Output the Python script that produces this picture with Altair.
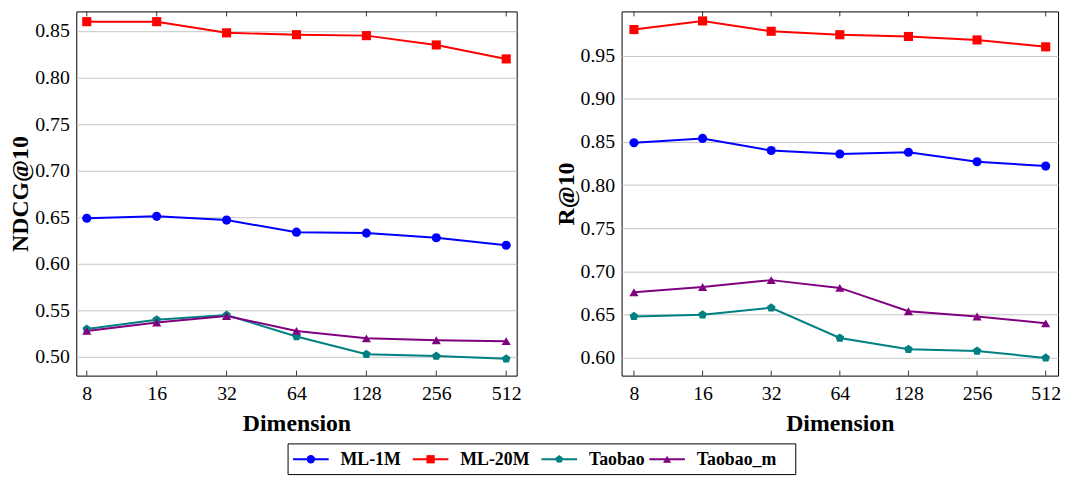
import altair as alt
import pandas as pd

dims = ["8", "16", "32", "64", "128", "256", "512"]
series = ["ML-1M", "ML-20M", "Taobao", "Taobao_m"]
colors = ["#0000ff", "#ff0000", "#008080", "#800080"]
pentagon = "M0,-1L0.951,-0.309L0.588,0.809L-0.588,0.809L-0.951,-0.309Z"
shapes = ["circle", "square", pentagon, "triangle-up"]

# NDCG@10 panel
ndcg_ml1m = [0.649, 0.651, 0.647, 0.634, 0.633, 0.628, 0.620]
ndcg_ml20m = [0.860, 0.860, 0.848, 0.846, 0.845, 0.835, 0.820]
ndcg_taobao = [0.530, 0.540, 0.545, 0.522, 0.503, 0.501, 0.498]
ndcg_taobao_m = [0.528, 0.537, 0.544, 0.528, 0.520, 0.518, 0.517]
ndcg_ticks = [0.50, 0.55, 0.60, 0.65, 0.70, 0.75, 0.80, 0.85]

# R@10 panel
r_ml1m = [0.849, 0.854, 0.840, 0.836, 0.838, 0.827, 0.822]
r_ml20m = [0.980, 0.990, 0.978, 0.974, 0.972, 0.968, 0.960]
r_taobao = [0.648, 0.650, 0.658, 0.623, 0.610, 0.608, 0.600]
r_taobao_m = [0.676, 0.682, 0.690, 0.681, 0.654, 0.648, 0.640]
r_ticks = [0.60, 0.65, 0.70, 0.75, 0.80, 0.85, 0.90, 0.95]

FONT = "Liberation Serif"
H = 368

color_scale = alt.Scale(domain=series, range=colors)
shape_scale = alt.Scale(domain=series, range=shapes)
x_axis = alt.Axis(title="Dimension", labelAngle=0, ticks=False, domain=False,
                  grid=False, labelPadding=8, titlePadding=8)


def panel(values, title, domain, ticks, width, pad):
    rows = []
    for s, vals in zip(series, values):
        for d, v in zip(dims, vals):
            rows.append({"dim": d, "val": v, "series": s})
    df = pd.DataFrame(rows)
    x_scale = alt.Scale(type="point", padding=pad)
    x = alt.X("dim:O", sort=dims, scale=x_scale, axis=x_axis)
    y = alt.Y("val:Q", scale=alt.Scale(domain=domain, nice=False, zero=False),
              axis=alt.Axis(title=title, values=ticks, format=".2f", ticks=False,
                            domain=False, grid=True, gridColor="#c4c4c4",
                            labelPadding=7, titlePadding=2))
    color = alt.Color("series:N", scale=color_scale, legend=None)
    lines = alt.Chart(df).mark_line(strokeWidth=2).encode(x=x, y=y, color=color)
    pts = alt.Chart(df).mark_point(filled=True, size=85, opacity=1).encode(
        x=x, y=y, color=color,
        shape=alt.Shape("series:N", scale=shape_scale, legend=None))
    tdf = pd.DataFrame({"dim": dims})
    top = alt.Chart(tdf).mark_rule(color="#333333", strokeWidth=1).encode(
        x=x, y=alt.value(0), y2=alt.value(5))
    bot = alt.Chart(tdf).mark_rule(color="#333333", strokeWidth=1).encode(
        x=x, y=alt.value(H - 5), y2=alt.value(H))
    return alt.layer(lines, pts, top, bot).properties(
        width=width, height=H, view=alt.ViewBackground(stroke="black", strokeWidth=1))


left = panel([ndcg_ml1m, ndcg_ml20m, ndcg_taobao, ndcg_taobao_m], "NDCG@10",
             [0.480, 0.871], ndcg_ticks, 445, 0.15)
right = panel([r_ml1m, r_ml20m, r_taobao, r_taobao_m], "R@10",
              [0.5795, 1.001], r_ticks, 441, 0.18)

# legend (layout offsets only, in pixels of the legend strip)
LW, LH = 800, 31
BOX_L, BOX_R = 214, 727
leg_start = [219, 340, 470, 579]
leg = pd.DataFrame({"series": series, "x0": leg_start})
lbase = alt.Chart(leg).transform_calculate(
    x1="datum.x0 + 36", xm="datum.x0 + 18", xt="datum.x0 + 48")
lx = alt.Scale(domain=[0, LW])
lcolor = alt.Color("series:N", scale=color_scale, legend=None)
lbox = alt.Chart(pd.DataFrame({"k": [0]})).mark_rect(
    fill="white", stroke="black", strokeWidth=1).encode(
    x=alt.value(BOX_L), x2=alt.value(BOX_R), y=alt.value(0), y2=alt.value(LH))
lrule = lbase.mark_rule(strokeWidth=2).encode(
    x=alt.X("x0:Q", scale=lx, axis=None), x2="x1:Q", y=alt.value(LH / 2), color=lcolor)
lpt = lbase.mark_point(filled=True, size=70, opacity=1).encode(
    x=alt.X("xm:Q", scale=lx, axis=None), y=alt.value(LH / 2), color=lcolor,
    shape=alt.Shape("series:N", scale=shape_scale, legend=None))
ltext = lbase.mark_text(align="left", baseline="middle", font=FONT, fontSize=18,
                        fontWeight="bold", color="black").encode(
    x=alt.X("xt:Q", scale=lx, axis=None), y=alt.value(LH / 2 + 1), text="series:N")
legend = alt.layer(lbox, lrule, lpt, ltext).properties(
    width=LW, height=LH, view=alt.ViewBackground(stroke=None))

chart = alt.vconcat(
    alt.hconcat(left, right, spacing=32),
    legend,
    spacing=7,
).properties(
    padding={"left": 0, "top": 0, "right": 0, "bottom": 0}
).configure_axis(
    labelFont=FONT, labelFontSize=20, labelColor="black",
    titleFont=FONT, titleFontSize=24, titleFontWeight="bold", titleColor="black",
)

chart.save("out.html", embed_options={"renderer": "svg", "actions": False})
